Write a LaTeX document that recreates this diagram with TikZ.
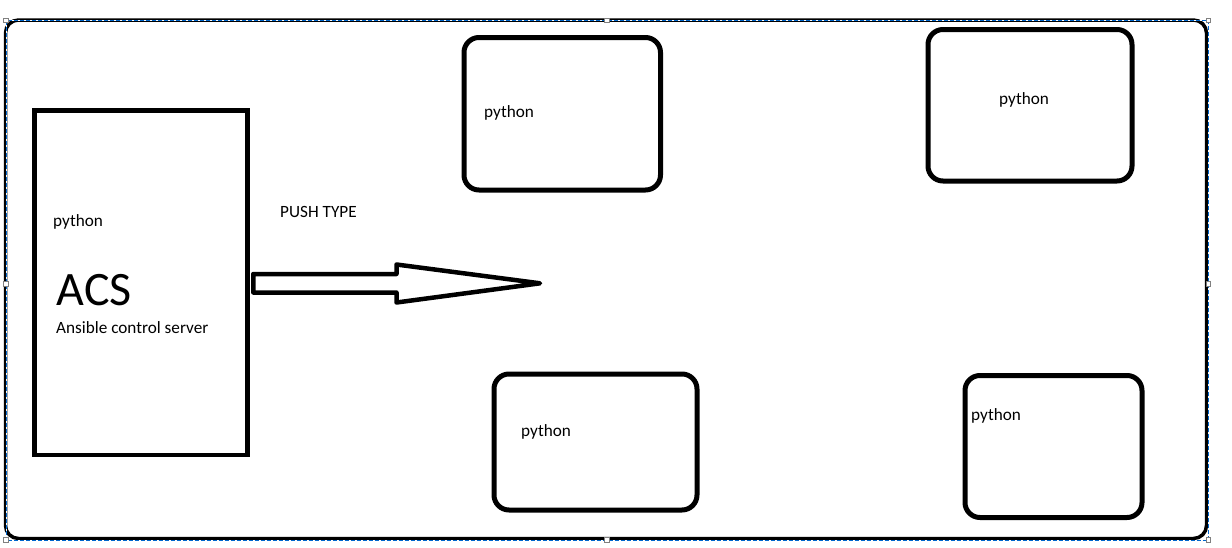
\documentclass[tikz,border=0pt]{standalone}
\usepackage{fontspec}
\setmainfont{Carlito}
\usepackage{xcolor}
\usepackage{tikz}
\usetikzlibrary{shapes,positioning}
\definecolor{selblue}{RGB}{0,102,204}
\tikzset{srv/.style={rectangle,draw,line width=4.5pt,inner sep=0pt}}
\tikzset{box/.style={rectangle,draw,rounded corners=15pt,line width=5pt,inner sep=0pt}}
\tikzset{txt/.style={anchor=base west,inner sep=0pt,font=\fontsize{17.2}{20}\selectfont}}
\tikzset{hollow/.style={draw,line width=4.5pt,line join=round}}
\tikzset{handle/.style={rectangle,draw=gray,fill=white,line width=0.8pt,minimum size=4.5pt,inner sep=0pt}}

\begin{document}
\begin{tikzpicture}[x=1pt,y=-1pt]
    \useasboundingbox (0,0) rectangle (1232,547);
    \draw[line width=3.5pt,rounded corners=13pt] (5.5,20) rectangle (1206.5,538.5);

    \node[srv,minimum width=213pt,minimum height=344.5pt] (acs)at (141,282.75) {};
    \node[box,minimum width=196.5pt,minimum height=152.5pt] (a)at (562.25,113.75) {};
    \node[box,minimum width=204pt,minimum height=151.5pt] (b)at (1030,105.25) {};
    \node[box,minimum width=203pt,minimum height=136pt] (c)at (595.5,442) {};
    \node[box,minimum width=177pt,minimum height=142pt] (d)at (1053.5,446.5) {};

    \node[txt] (t0)at (53,226) {python};
    \node[txt,font=\fontsize{48}{52}\selectfont] (acst)at (56.5,305) {ACS};
    \node[txt] (t1)at (56,333) {Ansible control server};
    \node[txt] (push)at (280,217) {PUSH TYPE};
    \node[txt] (ta)at (484,117.5) {python};
    \node[txt] (tb)at (999,104) {python};
    \node[txt] (tc)at (521,436) {python};
    \node[txt] (td)at (971,420) {python};

    \coordinate (tip)at (540,283.3);
    \draw[hollow] ([xshift=3.5pt,yshift=8.75pt]acs.east) -- (396.5,274) -- (396.5,264.5) -- (tip)
        -- (396.5,302.5) -- (396.5,292.5) -- ([xshift=3.5pt,yshift=-9.75pt]acs.east) -- cycle;

    % selection frame
    \draw[white,line width=1pt] (6,20.5) rectangle (1208.5,540);
    \draw[selblue,line width=1pt,dash pattern=on 4pt off 2pt] (6,20.5) rectangle (1208.5,540);
    \foreach \hx/\hy [count=\i] in {6/20.5,607/20.5,1208.5/20.5,6/284,1208.5/284,6/540,607/540,1208.5/540}
        \node[handle] (h\i)at (\hx,\hy) {};
\end{tikzpicture}
\end{document}
